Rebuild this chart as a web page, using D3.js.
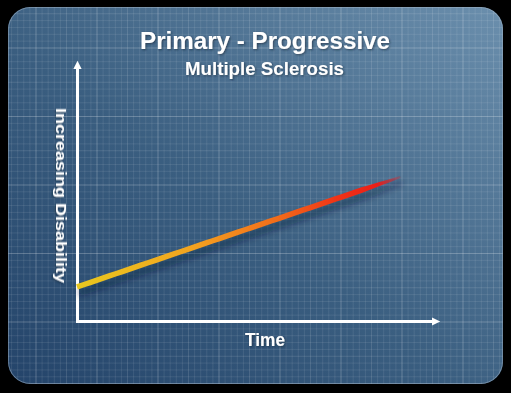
<!DOCTYPE html>
<html>
<head>
<meta charset="utf-8">
<script src="https://cdn.jsdelivr.net/npm/d3@7"></script>
<style>
  html, body { margin: 0; padding: 0; background: #000; }
  svg { display: block; }
</style>
</head>
<body>
<div id="container"></div>
<script>
// Chart data: one straight trend from start to end of the time axis
const timeValues = [0, 8.9];
const disabilityValues = [1.3, 5.5];
const titleText = "Primary - Progressive";
const subtitleText = "Multiple Sclerosis";
const xLabel = "Time";
const yLabel = "Increasing Disability";

const width = 511;
const height = 393;
const font = "'Liberation Sans', Arial, sans-serif";

const svg = d3.create("svg").attr("width", width).attr("height", height);
const defs = svg.append("defs");

// background gradient (dark bottom-left, lighter top-right)
const bg = defs.append("linearGradient").attr("id", "bg")
  .attr("x1", "0").attr("y1", "1").attr("x2", "1").attr("y2", "0");
bg.append("stop").attr("offset", "0%").attr("stop-color", "#24446a");
bg.append("stop").attr("offset", "45%").attr("stop-color", "#3a5e80");
bg.append("stop").attr("offset", "100%").attr("stop-color", "#6b8fad");

defs.append("clipPath").attr("id", "panelClip")
  .append("rect").attr("x", 8).attr("y", 7).attr("width", 495).attr("height", 377).attr("rx", 22);

const shadow = defs.append("filter").attr("id", "blur").attr("x", "-20%").attr("y", "-50%").attr("width", "140%").attr("height", "200%");
shadow.append("feGaussianBlur").attr("stdDeviation", 3);

const txtShadow = defs.append("filter").attr("id", "tshadow");
txtShadow.append("feDropShadow").attr("dx", 1).attr("dy", 1).attr("stdDeviation", 1)
  .attr("flood-color", "#0a1a2c").attr("flood-opacity", 0.6);

// black surround + panel
svg.append("rect").attr("width", width).attr("height", height).attr("fill", "#000");
svg.append("rect").attr("x", 8).attr("y", 7).attr("width", 495).attr("height", 377).attr("rx", 22)
  .attr("fill", "url(#bg)");

// blueprint grid
const grid = svg.append("g").attr("clip-path", "url(#panelClip)");
const gx0 = 36, gdx = 61, gy0 = 48, gdy = 68.5;
const gridOpacity = i => i % 10 === 0 ? 0.24 : (i % 5 === 0 ? 0.12 : 0.09);
d3.range(-10, 80).forEach(i => {
  const xv = gx0 + i * gdx / 10;
  grid.append("line").attr("x1", xv).attr("x2", xv).attr("y1", 0).attr("y2", height)
    .attr("stroke", "#fff").attr("stroke-opacity", gridOpacity(i));
});
d3.range(-10, 60).forEach(i => {
  const yv = gy0 + i * gdy / 10;
  grid.append("line").attr("y1", yv).attr("y2", yv).attr("x1", 0).attr("x2", width)
    .attr("stroke", "#fff").attr("stroke-opacity", gridOpacity(i));
});
svg.append("rect").attr("x", 8.5).attr("y", 7.5).attr("width", 494).attr("height", 376).attr("rx", 22)
  .attr("fill", "none").attr("stroke", "#9fb2c4").attr("stroke-opacity", 0.5);

// scales
const x = d3.scaleLinear().domain([0, 9.8]).range([77, 433]);
const y = d3.scaleLinear().domain([0, 9.7]).range([321, 67]);

// arrow marker
defs.append("marker").attr("id", "arrow")
  .attr("viewBox", "0 0 10 10").attr("refX", 2).attr("refY", 5)
  .attr("markerWidth", 3).attr("markerHeight", 2.8).attr("orient", "auto")
  .append("path").attr("d", "M0,0L10,5L0,10z").attr("fill", "#fff");

const axisStyle = g => {
  g.select(".domain").attr("stroke", "#fff").attr("stroke-width", 3)
    .attr("stroke-linecap", "square").attr("marker-end", "url(#arrow)");
  g.selectAll(".tick").remove();
};

svg.append("g").attr("transform", `translate(0,${y(0)})`)
  .call(d3.axisBottom(x).tickValues([]).tickSizeOuter(0)).call(axisStyle);
svg.append("g").attr("transform", `translate(${x(0)},0)`)
  .call(d3.axisLeft(y).tickValues([]).tickSizeOuter(0)).call(axisStyle);

// the trend line
const data = timeValues.map((t, i) => ({ t, v: disabilityValues[i] }));
const p0 = [x(data[0].t), y(data[0].v)];
const p1 = [x(data[1].t), y(data[1].v)];
const dx = p1[0] - p0[0], dy = p1[1] - p0[1];
const len = Math.hypot(dx, dy);
const nx = -dy / len, ny = dx / len;

const grad = defs.append("linearGradient").attr("id", "lineGrad")
  .attr("gradientUnits", "userSpaceOnUse")
  .attr("x1", p0[0]).attr("y1", p0[1]).attr("x2", p1[0]).attr("y2", p1[1]);
[["0%", "#e8c81e", 1], ["35%", "#f2a420", 1], ["62%", "#f26c1a", 1], ["80%", "#f03416", 1],
 ["93%", "#ea1e18", 1], ["100%", "#e01c24", 0.25]]
  .forEach(([o, c, op]) => grad.append("stop").attr("offset", o).attr("stop-color", c).attr("stop-opacity", op));

// tapered polygon along the line
const taper = (w0, w1) => {
  const wAt = f => f < 0.88 ? w0 : w0 + (w1 - w0) * ((f - 0.88) / 0.12);
  const fs = d3.range(0, 1.0001, 0.02);
  const left = fs.map(f => [p0[0] + dx * f + nx * wAt(f) / 2, p0[1] + dy * f + ny * wAt(f) / 2]);
  const right = fs.slice().reverse().map(f => [p0[0] + dx * f - nx * wAt(f) / 2, p0[1] + dy * f - ny * wAt(f) / 2]);
  return d3.line()(left.concat(right)) + "Z";
};

svg.append("path").attr("d", taper(7, 3))
  .attr("transform", "translate(2,6)")
  .attr("fill", "#0b1b30").attr("fill-opacity", 0.45).attr("filter", "url(#blur)")
  .attr("clip-path", "url(#panelClip)");
svg.append("path").attr("d", taper(5.5, 2)).attr("fill", "url(#lineGrad)");

// texts
const text = (str, tx, ty, size, len) => svg.append("text")
  .attr("x", tx).attr("y", ty).attr("text-anchor", "middle")
  .attr("font-family", font).attr("font-weight", "bold").attr("font-size", size)
  .attr("fill", "#fff").attr("filter", "url(#tshadow)")
  .attr("textLength", len).attr("lengthAdjust", "spacingAndGlyphs")
  .text(str);

text(titleText, 265, 48.5, 23, 250);
text(subtitleText, 264.5, 74.5, 18.5, 159);
text(xLabel, 265, 346, 18, 40);

svg.append("text")
  .attr("transform", `translate(56,195.5) rotate(90)`)
  .attr("text-anchor", "middle")
  .attr("font-family", font).attr("font-weight", "bold").attr("font-size", 15)
  .attr("fill", "#fff").attr("filter", "url(#tshadow)")
  .attr("textLength", 175).attr("lengthAdjust", "spacingAndGlyphs")
  .text(yLabel);

document.getElementById("container").append(svg.node());
</script>
</body>
</html>
